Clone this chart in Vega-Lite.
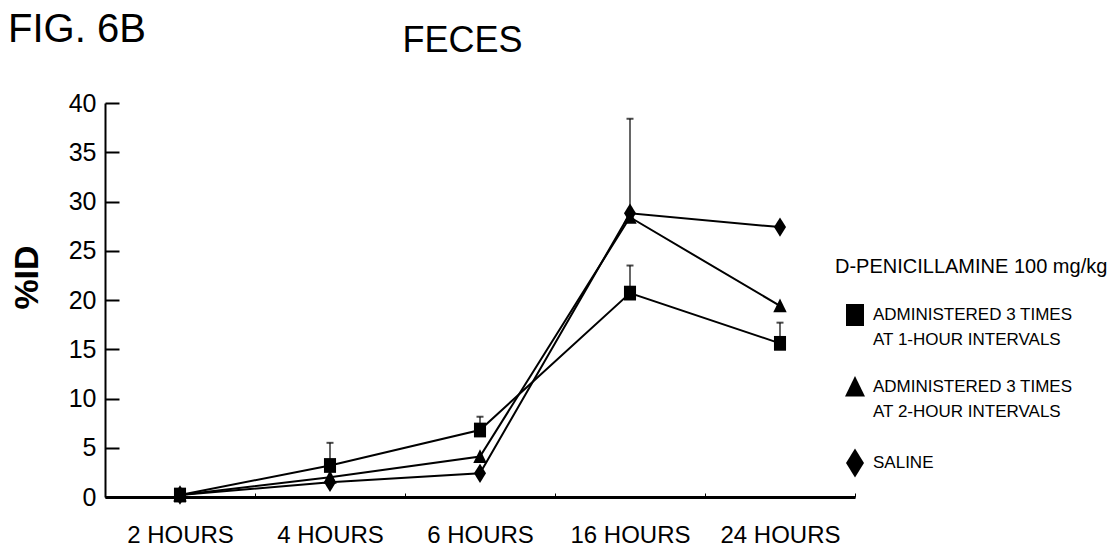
{
  "$schema": "https://vega.github.io/schema/vega-lite/v6.json",
  "width": 750,
  "height": 394,
  "autosize": {"type": "none"},
  "padding": {"left": 105, "top": 103, "right": 260, "bottom": 62},
  "background": "white",
  "title": {"text": "FIG. 6B", "anchor": "start", "frame": "group", "dx": -97, "offset": -60, "baseline": "alphabetic", "fontSize": 40, "font": "Liberation Sans", "fontWeight": "normal", "color": "black"},
  "config": {"view": {"stroke": null}, "font": "Liberation Sans", "style": {"guide-label": {"lineHeight": 25}}},
  "datasets": {
    "points": [
      {"time": "2 HOURS", "group": "ADMINISTERED 3 TIMES AT 1-HOUR INTERVALS", "value": 0.2},
      {"time": "4 HOURS", "group": "ADMINISTERED 3 TIMES AT 1-HOUR INTERVALS", "value": 3.2},
      {"time": "6 HOURS", "group": "ADMINISTERED 3 TIMES AT 1-HOUR INTERVALS", "value": 6.8},
      {"time": "16 HOURS", "group": "ADMINISTERED 3 TIMES AT 1-HOUR INTERVALS", "value": 20.7},
      {"time": "24 HOURS", "group": "ADMINISTERED 3 TIMES AT 1-HOUR INTERVALS", "value": 15.6},
      {"time": "2 HOURS", "group": "ADMINISTERED 3 TIMES AT 2-HOUR INTERVALS", "value": 0.2},
      {"time": "4 HOURS", "group": "ADMINISTERED 3 TIMES AT 2-HOUR INTERVALS", "value": 2.0},
      {"time": "6 HOURS", "group": "ADMINISTERED 3 TIMES AT 2-HOUR INTERVALS", "value": 4.1},
      {"time": "16 HOURS", "group": "ADMINISTERED 3 TIMES AT 2-HOUR INTERVALS", "value": 28.4},
      {"time": "24 HOURS", "group": "ADMINISTERED 3 TIMES AT 2-HOUR INTERVALS", "value": 19.4},
      {"time": "2 HOURS", "group": "SALINE", "value": 0.2},
      {"time": "4 HOURS", "group": "SALINE", "value": 1.5},
      {"time": "6 HOURS", "group": "SALINE", "value": 2.4},
      {"time": "16 HOURS", "group": "SALINE", "value": 28.8},
      {"time": "24 HOURS", "group": "SALINE", "value": 27.4}
    ],
    "errors": [
      {"time": "4 HOURS", "group": "ADMINISTERED 3 TIMES AT 1-HOUR INTERVALS", "value": 3.2, "upper": 5.5},
      {"time": "6 HOURS", "group": "ADMINISTERED 3 TIMES AT 1-HOUR INTERVALS", "value": 6.8, "upper": 8.15},
      {"time": "16 HOURS", "group": "ADMINISTERED 3 TIMES AT 1-HOUR INTERVALS", "value": 20.7, "upper": 23.5},
      {"time": "24 HOURS", "group": "ADMINISTERED 3 TIMES AT 1-HOUR INTERVALS", "value": 15.6, "upper": 17.7},
      {"time": "16 HOURS", "group": "ADMINISTERED 3 TIMES AT 2-HOUR INTERVALS", "value": 28.4, "upper": 38.4}
    ]
  },
  "encoding": {
    "x": {
      "field": "time", "type": "nominal",
      "sort": ["2 HOURS", "4 HOURS", "6 HOURS", "16 HOURS", "24 HOURS"],
      "scale": {"paddingInner": 0, "paddingOuter": 0},
      "axis": {
        "title": "FECES", "titleX": 357, "titleY": -446, "titleAlign": "center", "titleBaseline": "alphabetic",
        "titleFontSize": 36, "titleFontWeight": "normal", "titleFont": "Liberation Sans", "titleColor": "black",
        "labelAngle": 0, "labelFontSize": 24, "labelColor": "black", "labelPadding": 30,
        "tickBand": "extent", "tickSize": -4, "tickWidth": 1, "tickColor": "black",
        "domainColor": "black", "domainWidth": 3, "grid": false
      }
    },
    "y": {
      "field": "value", "type": "quantitative",
      "scale": {"domain": [0, 40], "nice": false},
      "axis": {
        "title": "%ID", "titleX": -78, "titleY": 174, "titleAngle": -90, "titleAlign": "center", "titleBaseline": "middle",
        "titleFontSize": 34, "titleFontWeight": "bold", "titleFont": "Liberation Sans", "titleColor": "black",
        "values": [0, 5, 10, 15, 20, 25, 30, 35, 40],
        "tickSize": -14, "tickWidth": 2, "tickColor": "black",
        "domainColor": "black", "domainWidth": 2,
        "labelFontSize": 25, "labelColor": "black", "labelPadding": 23, "grid": false
      }
    }
  },
  "layer": [
    {
      "data": {"name": "points"},
      "mark": {"type": "line", "color": "black", "strokeWidth": 2},
      "encoding": {"detail": {"field": "group"}}
    },
    {
      "data": {"name": "errors"},
      "mark": {"type": "rule", "color": "black", "strokeWidth": 1.2},
      "encoding": {"y2": {"field": "upper"}}
    },
    {
      "data": {"name": "errors"},
      "mark": {"type": "tick", "color": "black", "orient": "horizontal", "size": 7, "thickness": 2},
      "encoding": {"y": {"field": "upper", "type": "quantitative", "title": "%ID", "scale": {"domain": [0, 40], "nice": false}}}
    },
    {
      "data": {"name": "points"},
      "mark": {"type": "point", "filled": true, "color": "black", "opacity": 1, "size": 180, "strokeWidth": 0},
      "encoding": {
        "shape": {
          "field": "group", "type": "nominal",
          "scale": {
            "domain": ["ADMINISTERED 3 TIMES AT 1-HOUR INTERVALS", "ADMINISTERED 3 TIMES AT 2-HOUR INTERVALS", "SALINE"],
            "range": ["M-0.9,-1.1L0.9,-1.1L0.9,1.1L-0.9,1.1Z", "M0,-1.1L1,0.95L-1,0.95Z", "M0,-1.45L0.9,0L0,1.45L-0.9,0Z"]
          },
          "legend": {
            "title": "D-PENICILLAMINE 100 mg/kg", "orient": "none", "legendX": 730, "legendY": 154,
            "titleFontSize": 20, "titleFont": "Liberation Sans", "titleFontWeight": "normal", "titleColor": "black",
            "titlePadding": 28, "titleLimit": 400,
            "labelFontSize": 17, "labelColor": "black", "labelLimit": 400, "labelOffset": 8,
            "symbolOffset": 10, "symbolSize": 400, "symbolFillColor": "black", "symbolStrokeColor": "black", "symbolStrokeWidth": 0,
            "rowPadding": 28, "padding": 0,
            "labelExpr": "datum.label == 'SALINE' ? 'SALINE' : [slice(datum.label, 0, 20), '\u00a0\u00a0' + slice(datum.label, 21)]",
            "encode": {"labels": {"update": {"lineHeight": {"value": 25}}}}
          }
        }
      }
    }
  ]
}
